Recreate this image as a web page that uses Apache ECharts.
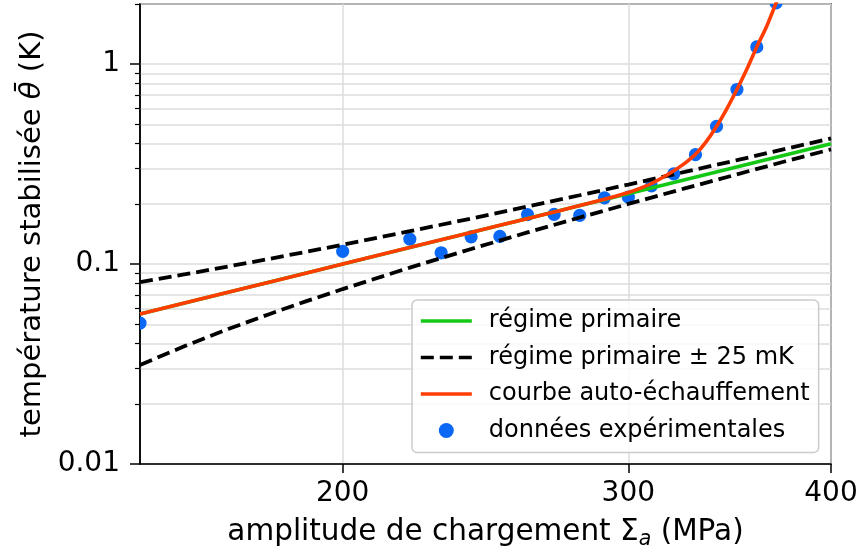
<!DOCTYPE html>
<html>
<head>
<meta charset="utf-8">
<script src="https://cdn.jsdelivr.net/npm/echarts@6/dist/echarts.min.js"></script>
<style>html,body{margin:0;padding:0;background:#fff}#c{width:861px;height:555px}</style>
</head>
<body>
<div id="c"></div>
<script>
// ---- data ----
const xTickValues = [200, 300, 400];
const xTickLabels = ['200', '300', '400'];
const yTickValues = [0.01, 0.1, 1];
const yTickLabels = ['0.01', '0.1', '1'];
const yMinorValues = [0.02,0.03,0.04,0.05,0.06,0.07,0.08,0.09,0.2,0.3,0.4,0.5,0.6,0.7,0.8,0.9,2];

const expSigma = [150,200,220,230,240,250,260,270,280,290,300,310,320,330,340,350,360,370];
const expTheta = [0.0507,0.1158,0.1334,0.1139,0.1369,0.1375,0.1768,0.1772,0.1751,0.2146,0.2163,0.2463,0.2828,0.3528,0.4881,0.7472,1.22,2.025];

const primarySigma = [150, 400];
const primaryTheta = [0.0563, 0.400];

const bandSigma = [150,160,170,180,190,200,220,240,260,280,300,325,350,375,400];
const bandUpper = [0.0813,0.089,0.0973,0.106,0.1153,0.125,0.146,0.169,0.194,0.221,0.25,0.289,0.331,0.377,0.425];
const bandLower = [0.0313,0.039,0.0473,0.056,0.0653,0.075,0.096,0.119,0.144,0.171,0.2,0.239,0.281,0.327,0.375];

const heatSigma = [150,175,200,225,250,270,290,300,305,310,315,320,325,330,335,340,345,350,355,360,365,370,375];
const heatTheta = [0.0563,0.0766,0.1,0.1266,0.1563,0.1823,0.2108,0.228,0.239,0.253,0.271,0.293,0.319,0.354,0.409,0.488,0.598,0.747,0.945,1.22,1.54,2.02,2.6];

const names = ['régime primaire', 'régime primaire ± 25 mK', 'courbe auto-échauffement', 'données expérimentales'];
const colors = { green: '#16c816', black: '#000000', orange: '#ff3d00', blue: '#0a68f5' };

// ---- helpers ----
const zip = (a, b) => a.map((v, i) => [v, b[i]]);
const labelFor = (vals, labels) => (v) => {
  for (let i = 0; i < vals.length; i++) if (Math.abs(v - vals[i]) / vals[i] < 1e-6) return labels[i];
  return '';
};
const FONT = 'DejaVu Sans';
const gridColor = '#dddddd';

const chart = echarts.init(document.getElementById('c'), null, { renderer: 'canvas' });
chart.setOption({
  animation: false,
  backgroundColor: '#ffffff',
  textStyle: { fontFamily: FONT },
  grid: { left: 140, right: 30, top: 4, bottom: 91, show: true, borderColor: '#000', borderWidth: 1.5, backgroundColor: 'transparent' },
  xAxis: {
    type: 'log', logBase: 10, min: 150, max: 400,
    axisLine: { show: true, lineStyle: { color: '#000', width: 1.5 } },
    axisTick: { show: true, customValues: xTickValues, length: 9, lineStyle: { color: '#000', width: 1.5 } },
    axisLabel: { customValues: xTickValues, formatter: labelFor(xTickValues, xTickLabels), fontSize: 28, color: '#000', margin: 16, fontFamily: FONT },
    splitLine: { show: true, lineStyle: { color: gridColor, width: 1.5 } },
    minorTick: { show: false }, minorSplitLine: { show: false },
    name: '{n|amplitude de chargement Σ}{s|a}{n| (MPa)}',
    nameLocation: 'middle', nameGap: 50,
    nameTextStyle: {
      rich: {
        n: { fontSize: 29.5, fontFamily: FONT, color: '#000', lineHeight: 36 },
        s: { fontSize: 20.5, fontFamily: FONT, fontStyle: 'italic', color: '#000', verticalAlign: 'bottom', lineHeight: 20 }
      }
    }
  },
  yAxis: [{
    type: 'log', logBase: 10, min: 0.01, max: 2,
    axisLine: { show: true, lineStyle: { color: '#000', width: 1.5 } },
    axisTick: { show: true, customValues: yTickValues, length: 10, lineStyle: { color: '#000', width: 1.5 } },
    axisLabel: { customValues: yTickValues, formatter: labelFor(yTickValues, yTickLabels), fontSize: 28, color: '#000', margin: 20, fontFamily: FONT },
    splitLine: { show: true, lineStyle: { color: gridColor, width: 1.5 } },
    minorTick: { show: false }, minorSplitLine: { show: false },
    name: '{n|température stabilisée }{it|θ̄}{n| (K)}',
    nameLocation: 'middle', nameGap: 92,
    nameTextStyle: {
      rich: {
        n: { fontSize: 29, fontFamily: FONT, color: '#000' },
        it: { fontSize: 29, fontFamily: FONT, fontStyle: 'italic', color: '#000' }
      }
    }
  }, {
    type: 'log', logBase: 10, min: 0.01, max: 2, position: 'left',
    axisLine: { show: false },
    axisTick: { show: true, customValues: yMinorValues, length: 5, lineStyle: { color: '#000', width: 1.2 } },
    axisLabel: { show: false },
    splitLine: { show: true, lineStyle: { color: gridColor, width: 1.5 } },
    minorTick: { show: false }, minorSplitLine: { show: false }
  }],
  legend: {
    orient: 'vertical', left: 412, top: 300,
    padding: [9, 9, 10, 7],
    itemWidth: 51, itemHeight: 15, itemGap: 12.5,
    backgroundColor: 'rgba(255,255,255,0.8)',
    borderColor: '#cccccc', borderWidth: 1.5, borderRadius: 5,
    lineStyle: { width: 3.6 },
    textStyle: { fontSize: 24, fontFamily: FONT, color: '#000', padding: [0, 0, 0, 12] },
    data: [
      { name: names[0], itemStyle: { opacity: 0 } },
      { name: names[1], itemStyle: { opacity: 0 } },
      { name: names[2], itemStyle: { opacity: 0 } },
      { name: names[3], icon: 'circle' }
    ]
  },
  series: [
    { name: names[0], type: 'line', data: zip(primarySigma, primaryTheta), symbol: 'none',
      lineStyle: { color: colors.green, width: 3.6 }, itemStyle: { color: colors.green } },
    { name: names[1], type: 'line', data: zip(bandSigma, bandUpper), symbol: 'none', smooth: false,
      lineStyle: { color: colors.black, width: 3.8, type: [13, 6] }, itemStyle: { color: colors.black } },
    { name: names[1], type: 'line', data: zip(bandSigma, bandLower), symbol: 'none', smooth: false,
      lineStyle: { color: colors.black, width: 3.8, type: [13, 6] }, itemStyle: { color: colors.black } },
    { name: names[2], type: 'line', data: zip(heatSigma, heatTheta), symbol: 'none', smooth: 0.3,
      lineStyle: { color: colors.orange, width: 3.6 }, itemStyle: { color: colors.orange } },
    { name: names[3], type: 'custom', data: zip(expSigma, expTheta), clip: true,
      itemStyle: { color: colors.blue },
      encode: { x: 0, y: 1 },
      renderItem: function (params, api) {
        const p = api.coord([api.value(0), api.value(1)]);
        return { type: 'circle', shape: { cx: p[0], cy: p[1], r: 6.6 }, style: { fill: colors.blue } };
      }
    }
  ]
});
</script>
</body>
</html>
